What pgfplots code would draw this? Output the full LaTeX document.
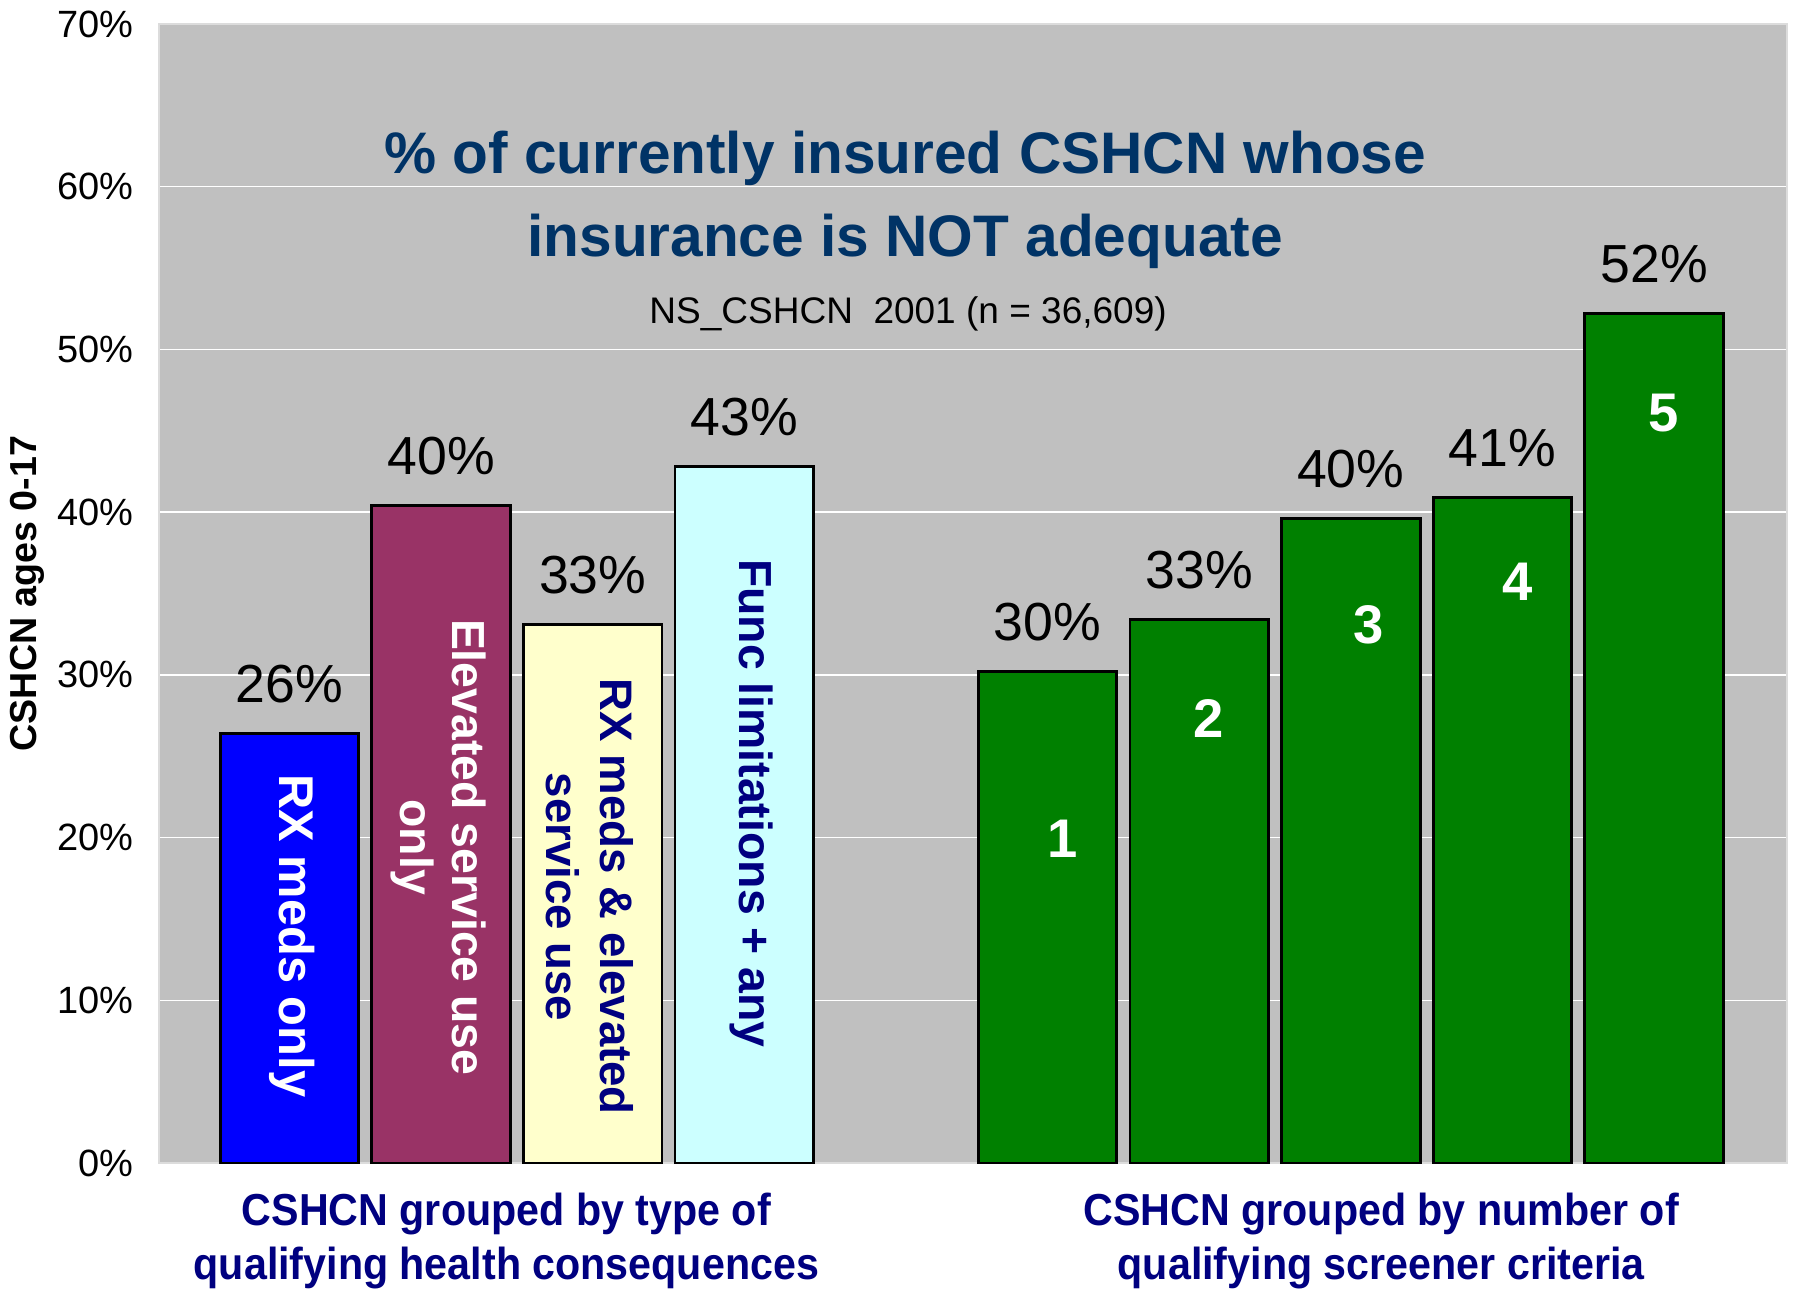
\documentclass[border=0pt]{standalone}
\usepackage{pgfplots}
\pgfplotsset{compat=1.18}
\usepackage{fontspec}
\setmainfont{Liberation Sans}
\definecolor{bg}{HTML}{C0C0C0}
\definecolor{titleblue}{HTML}{003366}
\definecolor{navy}{HTML}{000080}
\definecolor{barblue}{HTML}{0000FF}
\definecolor{maroon}{HTML}{993366}
\definecolor{lyellow}{HTML}{FFFFCC}
\definecolor{lcyan}{HTML}{CCFFFF}
\definecolor{dgreen}{HTML}{008000}
\definecolor{frame}{HTML}{DCDCDC}
\newcommand{\grp}[1]{\scalebox{0.92}[1]{#1}}
\begin{document}
\begin{tikzpicture}
\begin{axis}[
  scale only axis, width=407pt, height=284.75pt,
  xmin=-0.861, xmax=9.877, ymin=0, ymax=70,
  axis background/.style={fill=bg},
  axis line style={draw=frame, line width=0.3pt},
  xtick=\empty,
  ytick={0,10,...,70},
  yticklabel={\pgfmathprintnumber{\tick}\%},
  /pgf/number format/assume math mode=true,
  yticklabel style={font=\fontsize{9.5}{11}\selectfont, anchor=east, inner sep=0pt, xshift=-6.25pt},
  major tick length=0pt,
  ymajorgrids, grid style={white, line width=0.35pt},
  ybar, bar width=0.914, bar shift=0pt,
  every axis plot/.append style={draw=black, line width=0.7pt},
  nodes near coords={\pgfmathprintnumber[fixed,precision=0]{\pgfplotspointmeta}\%},
  nodes near coords style={font=\fontsize{13.4}{16}\selectfont, anchor=base, inner sep=0pt, yshift=7.75pt, text=black},
  clip=false,
  ylabel={CSHCN ages 0-17},
  ylabel style={at={(rel axis cs:-0.0808,0.5)}, anchor=center, font=\bfseries\fontsize{9.4}{11}\selectfont},
]
\addplot[fill=barblue] coordinates {(0,26.4)};
\addplot[fill=maroon] coordinates {(1,40.4)};
\addplot[fill=lyellow] coordinates {(2,33.1)};
\addplot[fill=lcyan] coordinates {(3,42.8)};
\addplot[fill=dgreen] coordinates {(5,30.2) (6,33.4) (7,39.6) (8,40.9) (9,52.2)};

\node[rotate=-90, font=\bfseries\fontsize{12.2}{14}\selectfont, text=white] at (axis cs:0.02,13.95) {RX meds only};
\node[rotate=-90, align=center, font=\bfseries\fontsize{11.6}{13}\selectfont, text=white] at (axis cs:0.98,19.4) {Elevated service use\\only};
\node[rotate=-90, align=center, font=\bfseries\fontsize{11.4}{13.6}\selectfont, text=navy] at (axis cs:1.98,16.35) {RX meds \& elevated\\service use};
\node[rotate=-90, font=\bfseries\fontsize{11.6}{13}\selectfont, text=navy] at (axis cs:3.05,22.1) {Func limitations + any};

\node[font=\bfseries\fontsize{13.6}{16}\selectfont, text=white] at (axis cs:5.10,19.9) {1};
\node[font=\bfseries\fontsize{13.6}{16}\selectfont, text=white] at (axis cs:6.06,27.3) {2};
\node[font=\bfseries\fontsize{13.6}{16}\selectfont, text=white] at (axis cs:7.12,33.1) {3};
\node[font=\bfseries\fontsize{13.6}{16}\selectfont, text=white] at (axis cs:8.10,35.7) {4};
\node[font=\bfseries\fontsize{13.6}{16}\selectfont, text=white] at (axis cs:9.06,46.1) {5};

\node[anchor=base, font=\bfseries\fontsize{14.65}{17}\selectfont, text=titleblue] at (axis cs:4.06,60.8) {\% of currently insured CSHCN whose};
\node[anchor=base, font=\bfseries\fontsize{14.65}{17}\selectfont, text=titleblue] at (axis cs:4.06,55.7) {insurance is NOT adequate};
\node[anchor=base, font=\fontsize{9.25}{11}\selectfont] at (axis cs:4.08,51.6) {NS\_CSHCN~~2001 (n = 36,609)};

\node[anchor=base, font=\bfseries\fontsize{11.2}{12}\selectfont, text=navy] at (axis cs:1.43,-3.84) {\grp{CSHCN grouped by type of}};
\node[anchor=base, font=\bfseries\fontsize{11.2}{12}\selectfont, text=navy] at (axis cs:1.43,-7.13) {\grp{qualifying health consequences}};
\node[anchor=base, font=\bfseries\fontsize{11.2}{12}\selectfont, text=navy] at (axis cs:7.20,-3.84) {\grp{CSHCN grouped by number of}};
\node[anchor=base, font=\bfseries\fontsize{11.2}{12}\selectfont, text=navy] at (axis cs:7.20,-7.13) {\grp{qualifying screener criteria}};
\end{axis}
\pgfresetboundingbox
\path ([xshift=-39.75pt,yshift=-32pt]current axis.south west) rectangle ([xshift=2.25pt,yshift=6pt]current axis.north east);
\end{tikzpicture}
\end{document}
